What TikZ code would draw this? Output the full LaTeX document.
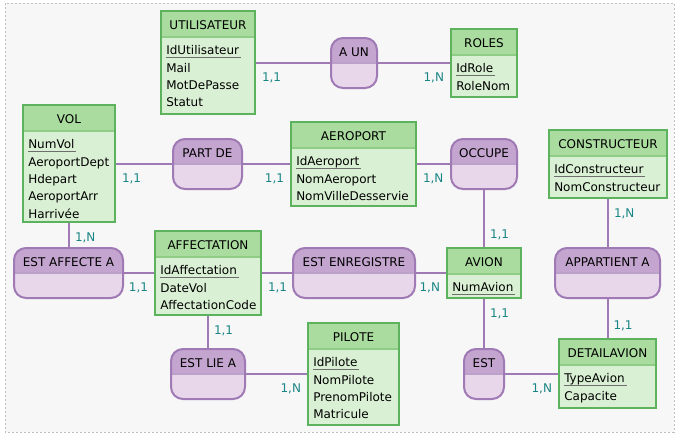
\documentclass[tikz,border=0pt]{standalone}
\usepackage{fontspec}
\setmainfont{DejaVu Sans}

\definecolor{enthead}{HTML}{A9DC9E}
\definecolor{entbody}{HTML}{DAF0D4}
\definecolor{entline}{HTML}{5DB35D}
\definecolor{entsep}{HTML}{8FCC85}
\definecolor{asshead}{HTML}{C4A5CF}
\definecolor{assbody}{HTML}{E8D6EA}
\definecolor{assline}{HTML}{A07AB4}
\definecolor{cardcol}{HTML}{1A8585}
\definecolor{pkline}{HTML}{6E6E6E}
\definecolor{bgcol}{HTML}{F7F7F7}

% identifiant souligne
\newcommand{\pk}[1]{\setbox0=\hbox{#1}\rlap{\color{pkline}\rule[-2.6pt]{\dimexpr\wd0+1.5pt\relax}{1.4pt}}\box0}

\begin{document}
\begin{tikzpicture}[x=0.75pt, y=-0.75pt,
    every node/.style={font=\fontsize{9}{13}\selectfont},
    entity/.style={rectangle, draw=entline, line width=1.5pt, fill=entbody, anchor=north west, inner sep=0pt,
        path picture={
            \fill[enthead] (path picture bounding box.north west) rectangle ([yshift=-19.5pt]path picture bounding box.north east);
            \draw[entsep, line width=1.5pt] ([yshift=-19.5pt]path picture bounding box.north west) -- ([yshift=-19.5pt]path picture bounding box.north east);
        }},
    etitle/.style={anchor=north, inner sep=0pt, text height=14.5pt, text depth=0pt},
    eattr/.style={anchor=north west, align=left, inner xsep=4.5pt, inner ysep=7.2pt, yshift=-19.5pt},
    assoc/.style={rectangle, rounded corners=9pt, draw=assline, line width=1.5pt,
        fill=assbody, anchor=north west, inner sep=0pt, text height=14pt, text depth=23.5pt,
        path picture={
            \fill[asshead, sharp corners] (path picture bounding box.north west) rectangle (path picture bounding box.east);
            \draw[assline!70, line width=1.5pt, sharp corners] (path picture bounding box.west) -- (path picture bounding box.east);
        }},
    link/.style={draw=assline, line width=1.5pt},
    card/.style={text=cardcol, inner sep=3.75pt, text height=9pt, text depth=2pt}]

    % --- fond ---
    \useasboundingbox (0,0) rectangle (679,436);
    \draw[fill=bgcol, draw=black!25, line width=0.75pt, dash pattern=on 1.5pt off 1.5pt] (5,3) rectangle (674,432);

    % --- ENTITES ---
    \node[entity, minimum width=70.5pt, minimum height=77.25pt] (utilisateur) at (160,10) {};
    \node[etitle] (utilisateur-t) at (utilisateur.north) {UTILISATEUR};
    \node[eattr] (utilisateur-a) at (utilisateur.north west) {\pk{IdUtilisateur}\\Mail\\MotDePasse\\Statut};

    \node[entity, minimum width=49.5pt, minimum height=51pt] (roles) at (450,28) {};
    \node[etitle] (roles-t) at (roles.north) {ROLES};
    \node[eattr] (roles-a) at (roles.north west) {\pk{IdRole}\\RoleNom};

    \node[entity, minimum width=69pt, minimum height=87.75pt] (vol) at (22,104) {};
    \node[etitle] (vol-t) at (vol.north) {VOL};
    \node[eattr] (vol-a) at (vol.north west) {\pk{NumVol}\\AeroportDept\\Hdepart\\AeroportArr\\Harrivée};

    \node[entity, minimum width=93.75pt, minimum height=63pt] (aeroport) at (290,121) {};
    \node[etitle] (aeroport-t) at (aeroport.north) {AEROPORT};
    \node[eattr] (aeroport-a) at (aeroport.north west) {\pk{IdAeroport}\\NomAeroport\\NomVilleDesservie};

    \node[entity, minimum width=88.5pt, minimum height=51pt] (constructeur) at (548,129) {};
    \node[etitle] (constructeur-t) at (constructeur.north) {CONSTRUCTEUR};
    \node[eattr] (constructeur-a) at (constructeur.north west) {\pk{IdConstructeur}\\NomConstructeur};

    \node[entity, minimum width=79.5pt, minimum height=63pt] (affectation) at (154,230) {};
    \node[etitle] (affectation-t) at (affectation.north) {AFFECTATION};
    \node[eattr] (affectation-a) at (affectation.north west) {\pk{IdAffectation}\\DateVol\\AffectationCode};

    \node[entity, minimum width=55.5pt, minimum height=37.5pt] (avion) at (446,247) {};
    \node[etitle] (avion-t) at (avion.north) {AVION};
    \node[eattr] (avion-a) at (avion.north west) {\pk{NumAvion}};

    \node[entity, minimum width=68.25pt, minimum height=76.5pt] (pilote) at (307,322) {};
    \node[etitle] (pilote-t) at (pilote.north) {PILOTE};
    \node[eattr] (pilote-a) at (pilote.north west) {\pk{IdPilote}\\NomPilote\\PrenomPilote\\Matricule};

    \node[entity, minimum width=72.75pt, minimum height=51.75pt] (detailavion) at (558,338) {};
    \node[etitle] (detailavion-t) at (detailavion.north) {DETAILAVION};
    \node[eattr] (detailavion-a) at (detailavion.north west) {\pk{TypeAvion}\\Capacite};

    % --- ASSOCIATIONS ---
    \node[assoc, minimum width=34.5pt] (aun) at (330,37) {A UN};
    \node[assoc, minimum width=51.75pt] (partde) at (172,138) {PART DE};
    \node[assoc, minimum width=49.5pt] (occupe) at (450,138) {OCCUPE};
    \node[assoc, minimum width=81.75pt] (estaffectea) at (13,247) {EST AFFECTE A};
    \node[assoc, minimum width=91.5pt] (estenregistre) at (292,247) {EST ENREGISTRE};
    \node[assoc, minimum width=78.75pt] (appartienta) at (554,247) {APPARTIENT A};
    \node[assoc, minimum width=55.5pt] (estliea) at (170,348) {EST LIE A};
    \node[assoc, minimum width=30pt] (est) at (463,348) {EST};

    % --- LIENS ET CARDINALITES ---
    \draw[link] (utilisateur.east |- aun) -- (aun.west) node[card, at start, below right] {1,1};
    \draw[link] (aun.east) -- (roles.west |- aun) node[card, below left] {1,N};
    \draw[link] (vol.east |- partde) -- (partde.west) node[card, at start, below right] {1,1};
    \draw[link] (partde.east) -- (aeroport.west |- partde) node[card, below left] {1,1};
    \draw[link] (aeroport.east |- occupe) -- (occupe.west) node[card, at start, below right] {1,N};
    \draw[link] (occupe.south) -- (avion.north) node[card, above right] {1,1};
    \draw[link] (vol.south) -- (vol.south |- estaffectea.north) node[card, at start, below right] {1,N};
    \draw[link] (estaffectea.east) -- (affectation.west |- estaffectea) node[card, below left] {1,1};
    \draw[link] (affectation.east |- estenregistre) -- (estenregistre.west) node[card, at start, below right] {1,1};
    \draw[link] (estenregistre.east) -- (avion.west |- estenregistre) node[card, below left] {1,N};
    \draw[link] (affectation.south) -- (affectation.south |- estliea.north) node[card, at start, below right] {1,1};
    \draw[link] (estliea.east) -- (pilote.west |- estliea) node[card, below left] {1,N};
    \draw[link] (avion.south) -- (avion.south |- est.north) node[card, at start, below right] {1,1};
    \draw[link] (est.east) -- (detailavion.west |- est) node[card, below left] {1,N};
    \draw[link] (constructeur.south) -- (constructeur.south |- appartienta.north) node[card, at start, below right] {1,N};
    \draw[link] (appartienta.south) -- (appartienta.south |- detailavion.north) node[card, above right] {1,1};

\end{tikzpicture}
\end{document}
